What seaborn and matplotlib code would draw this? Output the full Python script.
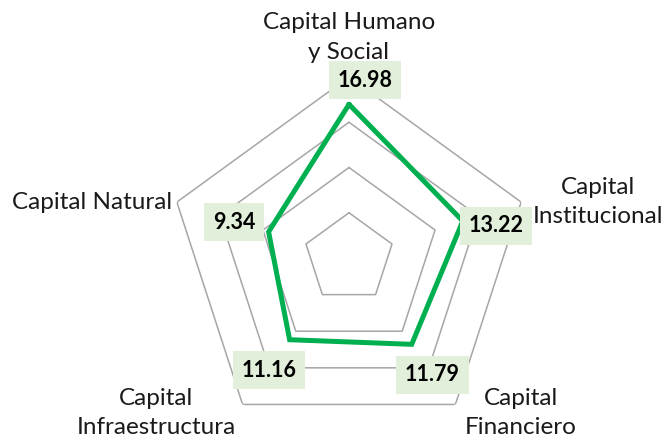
import numpy as np
import pandas as pd
import matplotlib
matplotlib.use("Agg")
import matplotlib.pyplot as plt
import seaborn as sns

# Data
categories = ["Capital Humano\ny Social", "Capital\nInstitucional", "Capital\nFinanciero",
              "Capital\nInfraestructura", "Capital Natural"]
values = [16.98, 13.22, 11.79, 11.16, 9.34]
value_labels = ["16.98", "13.22", "11.79", "11.16", "9.34"]
ring_levels = [5, 10, 15, 20]

sns.set_style("white")
plt.rcParams["font.family"] = ["Lato", "DejaVu Sans"]

n = len(categories)
angles = np.arange(n) * 2 * np.pi / n

fig = plt.figure(figsize=(6.65, 4.38), dpi=100)
ax = fig.add_axes([0.2526, -0.0023, 0.5444, 0.8265], projection="polar")
ax.set_theta_zero_location("N")
ax.set_theta_direction(-1)
ax.set_ylim(0, 20)
ax.grid(False)
ax.spines["polar"].set_visible(False)
ax.set_xticks([])
ax.set_yticks([])
ax.patch.set_alpha(0)

# pentagon rings
closed_angles = np.append(angles, angles[0])
for lvl in ring_levels:
    ax.plot(closed_angles, [lvl] * (n + 1), color="#A6A6A6", lw=1.1, zorder=1)

# data polygon (closed)
df = pd.DataFrame({"theta": closed_angles, "r": values + values[:1]})
sns.lineplot(data=df, x="theta", y="r", sort=False, estimator=None, ax=ax,
             color="#00B050", lw=3.6, zorder=3, solid_joinstyle="miter")
ax.set_xlabel("")
ax.set_ylabel("")

# axis labels
label_offsets = [(0, 28.5), (55, 0), (47, -6), (-62, -6), (-3.5, 0)]
label_ha = ["center", "center", "center", "center", "right"]
for ang, cat, off, ha in zip(angles, categories, label_offsets, label_ha):
    ax.annotate(cat, xy=(ang, 20), xytext=off, textcoords="offset points",
                ha=ha, va="center", fontsize=17.5, color="#1a1a1a",
                linespacing=1.5, annotation_clip=False)

# value labels
value_offsets = [(11.5, 17.5), (24, -3.5), (15, -22), (-15, -22), (-25, 7)]
for ang, v, txt, off in zip(angles, values, value_labels, value_offsets):
    ax.annotate(txt, xy=(ang, v), xytext=off, textcoords="offset points",
                ha="center", va="center", fontsize=15.5, fontweight="bold",
                color="black", zorder=5, annotation_clip=False,
                bbox=dict(boxstyle="square,pad=0.4", fc="#E2EFDA", ec="none"))

fig.savefig("out.png", dpi=100)
